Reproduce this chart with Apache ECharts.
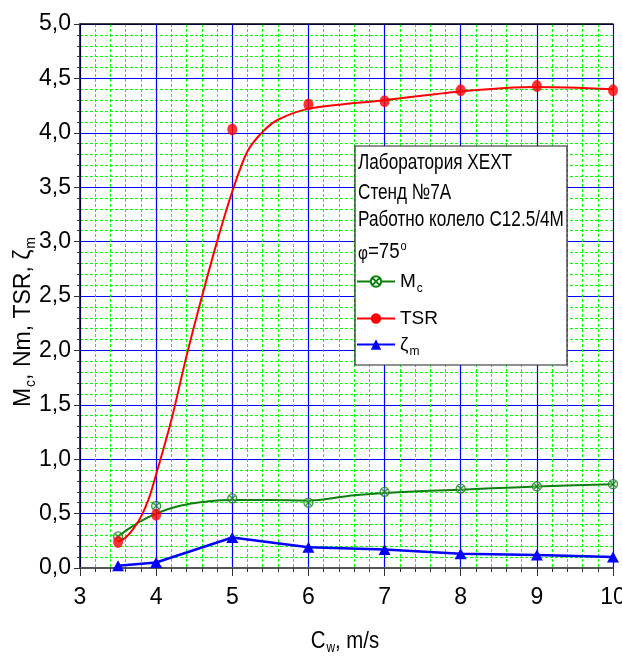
<!DOCTYPE html>
<html>
<head>
<meta charset="utf-8">
<script src="https://cdn.jsdelivr.net/npm/echarts@6/dist/echarts.min.js"></script>
<style>html,body{margin:0;padding:0;background:#fff;}#c{width:622px;height:657px;}</style>
</head>
<body>
<div id="c"></div>
<script>
// measured points
const xVals = [3.5, 4, 5, 6, 7, 8, 9, 10];
const mcVals = [0.29, 0.57, 0.64, 0.60, 0.70, 0.73, 0.75, 0.77];
const tsrVals = [0.24, 0.49, 4.03, 4.26, 4.29, 4.39, 4.43, 4.39];
const zetaVals = [0.02, 0.05, 0.28, 0.19, 0.17, 0.13, 0.12, 0.10];
// fitted curves
const tsrCurveX = [3.5, 3.6, 3.7, 3.8, 3.9, 4.0, 4.2, 4.4, 4.6, 4.8, 5.0, 5.2, 5.4, 5.6, 6.0, 7.0, 8.0, 9.0, 10.0];
const tsrCurveY = [0.24, 0.28, 0.36, 0.47, 0.63, 0.86, 1.36, 1.95, 2.49, 3.0, 3.46, 3.83, 4.01, 4.12, 4.22, 4.30, 4.38, 4.42, 4.40];
const mcCurveX = [3.5, 3.75, 4, 4.3, 4.65, 5, 5.5, 6, 6.5, 7, 8, 9, 10];
const mcCurveY = [0.29, 0.41, 0.50, 0.57, 0.61, 0.625, 0.625, 0.62, 0.66, 0.69, 0.72, 0.75, 0.77];
const headerLines = ['Лаборатория XEXT', 'Стенд №7А', 'Работно колело С12.5/4М'];
const xName = ['C', 'w', ', m/s'];
const yName = ['M', 'c', ', Nm, TSR, ζ', 'm'];

const FONT = '"Liberation Sans", Arial, sans-serif';
const pairs = (xs, ys) => xs.map((x, i) => [x, ys[i]]);
const mcSymbol = 'path://M0,-10A10,10 0 1,1 0,10A10,10 0 1,1 0,-10ZM-7,-7L7,7M7,-7L-7,7';

const chart = echarts.init(document.getElementById('c'), null, {renderer: 'canvas'});
const legendRich = {
  m: {fontSize: 19, fontFamily: FONT, color: '#000'},
  s: {fontSize: 12, fontFamily: FONT, color: '#000', padding: [14, 0, 0, 1]}
};
function legend(name, top) {
  return {
    data: [name], left: 356, top: top, orient: 'vertical', z: 20,
    itemWidth: 38, itemHeight: 13, itemGap: 0, padding: 0,
    textStyle: {fontFamily: FONT, fontSize: 19, color: '#000', rich: legendRich},
    formatter: n => n === 'Mc' ? '{m|M}{s|c}' : (n === 'zeta' ? '{m|ζ}{s|m}' : '{m|' + n + '}'),
    selectedMode: false
  };
}
const hdr = (txt, top) => ({type: 'text', x: 358, y: top, scaleX: 0.78, z: 6,
  style: {text: txt, font: '22px ' + FONT, fill: '#000', verticalAlign: 'middle'}});
const subRich = (big, small) => ({
  m: {fontSize: big, fontFamily: FONT, color: '#000'},
  s: {fontSize: small, fontFamily: FONT, color: '#000', padding: [Math.round(big * 0.6), 0, 0, 1]}
});
const option = {
  animation: false,
  backgroundColor: '#fff',
  grid: {left: 80, right: 9, top: 24, bottom: 89, containLabel: false, outerBoundsMode: 'none'},
  xAxis: [{
    type: 'value', min: 3, max: 10, interval: 1,
    axisLine: {show: true, onZero: false, lineStyle: {color: '#555', width: 2}},
    axisTick: {show: true, length: 8, lineStyle: {color: '#333'}},
    minorTick: {show: true, splitNumber: 5, length: 4, lineStyle: {color: '#333'}},
    axisLabel: {fontFamily: FONT, fontSize: 23, color: '#000', margin: 18},
    splitLine: {show: true, lineStyle: {color: '#0000ff', width: 1.2}},
    minorSplitLine: {show: true, lineStyle: {color: '#00ff00', width: 1, type: [3, 2]}}
  }, {
    type: 'value', position: 'top', min: 3, max: 10, interval: 1,
    axisLine: {show: true, onZero: false, lineStyle: {color: '#000', width: 1.5}},
    axisTick: {show: false}, axisLabel: {show: false}, splitLine: {show: false}
  }],
  yAxis: {
    type: 'value', min: 0, max: 5, interval: 0.5,
    axisLine: {show: true, lineStyle: {color: '#000', width: 1.5}},
    axisTick: {show: true, length: 6, lineStyle: {color: '#333'}},
    minorTick: {show: true, splitNumber: 5, length: 3, lineStyle: {color: '#333'}},
    axisLabel: {fontFamily: FONT, fontSize: 23, color: '#000', margin: 9,
      formatter: v => v.toFixed(1).replace('.', ',')},
    splitLine: {show: true, lineStyle: {color: '#0000ff', width: 1.2}},
    minorSplitLine: {show: true, lineStyle: {color: '#00ff00', width: 1, type: [3, 2]}}
  },
  legend: [legend('Mc', 272), legend('TSR', 309), legend('zeta', 335)],
  graphic: [
    {type: 'rect', shape: {x: 355, y: 146, width: 212, height: 219},
     style: {fill: '#fff', stroke: '#222', lineWidth: 1.2}, z: 5},
    hdr(headerLines[0], 163),
    hdr(headerLines[1], 193),
    hdr(headerLines[2], 220),
    {type: 'text', x: 358, y: 252, scaleX: 0.85, z: 6,
     style: {text: '{p|φ}{a|=75}{o|o}', fill: '#000', verticalAlign: 'middle', rich: {
       p: {fontSize: 18, fontFamily: FONT, padding: [4, 0, 0, 0]},
       a: {fontSize: 22, fontFamily: FONT},
       o: {fontSize: 13, fontFamily: FONT, padding: [0, 0, 12, 1]}
     }}},
    {type: 'text', x: 345, y: 641, scaleX: 0.85, z: 6,
     style: {text: '{m|' + xName[0] + '}{s|' + xName[1] + '}{m|' + xName[2] + '}',
       align: 'center', verticalAlign: 'middle', rich: subRich(24, 14)}},
    {type: 'text', x: 24, y: 322, rotation: Math.PI / 2, z: 6,
     style: {text: '{m|' + yName[0] + '}{s|' + yName[1] + '}{m|' + yName[2] + '}{s|' + yName[3] + '}',
       align: 'center', verticalAlign: 'middle', rich: subRich(23, 14)}}
  ],
  series: [
    {name: 'Mc', type: 'line', data: pairs(mcCurveX, mcCurveY), smooth: 0.5,
     showSymbol: false, symbol: mcSymbol, symbolSize: 9,
     lineStyle: {color: '#0c800c', width: 2}, itemStyle: {color: '#fff', borderColor: '#0c800c', borderWidth: 1}, z: 3},
    {name: 'Mc', type: 'scatter', data: pairs(xVals, mcVals), symbol: mcSymbol, symbolSize: 9,
     itemStyle: {color: 'rgba(200,220,200,0.5)', borderColor: '#0c800c', borderWidth: 1.3}, z: 4},
    {name: 'TSR', type: 'line', data: pairs(tsrCurveX, tsrCurveY), smooth: 0.3,
     showSymbol: false, symbol: 'circle', symbolSize: 10,
     lineStyle: {color: '#ff0000', width: 2}, itemStyle: {color: '#ff0000'}, z: 3},
    {name: 'TSR', type: 'scatter', data: pairs(xVals, tsrVals), symbol: 'circle', symbolSize: [10, 12],
     itemStyle: {color: '#ff0000'}, z: 4},
    {name: 'zeta', type: 'line', data: pairs(xVals, zetaVals), symbol: 'triangle', symbolSize: [12, 11],
     showSymbol: true, lineStyle: {color: '#0000ff', width: 2.5}, itemStyle: {color: '#0000ff'}, z: 4}
  ]
};
chart.setOption(option);
</script>
</body>
</html>
